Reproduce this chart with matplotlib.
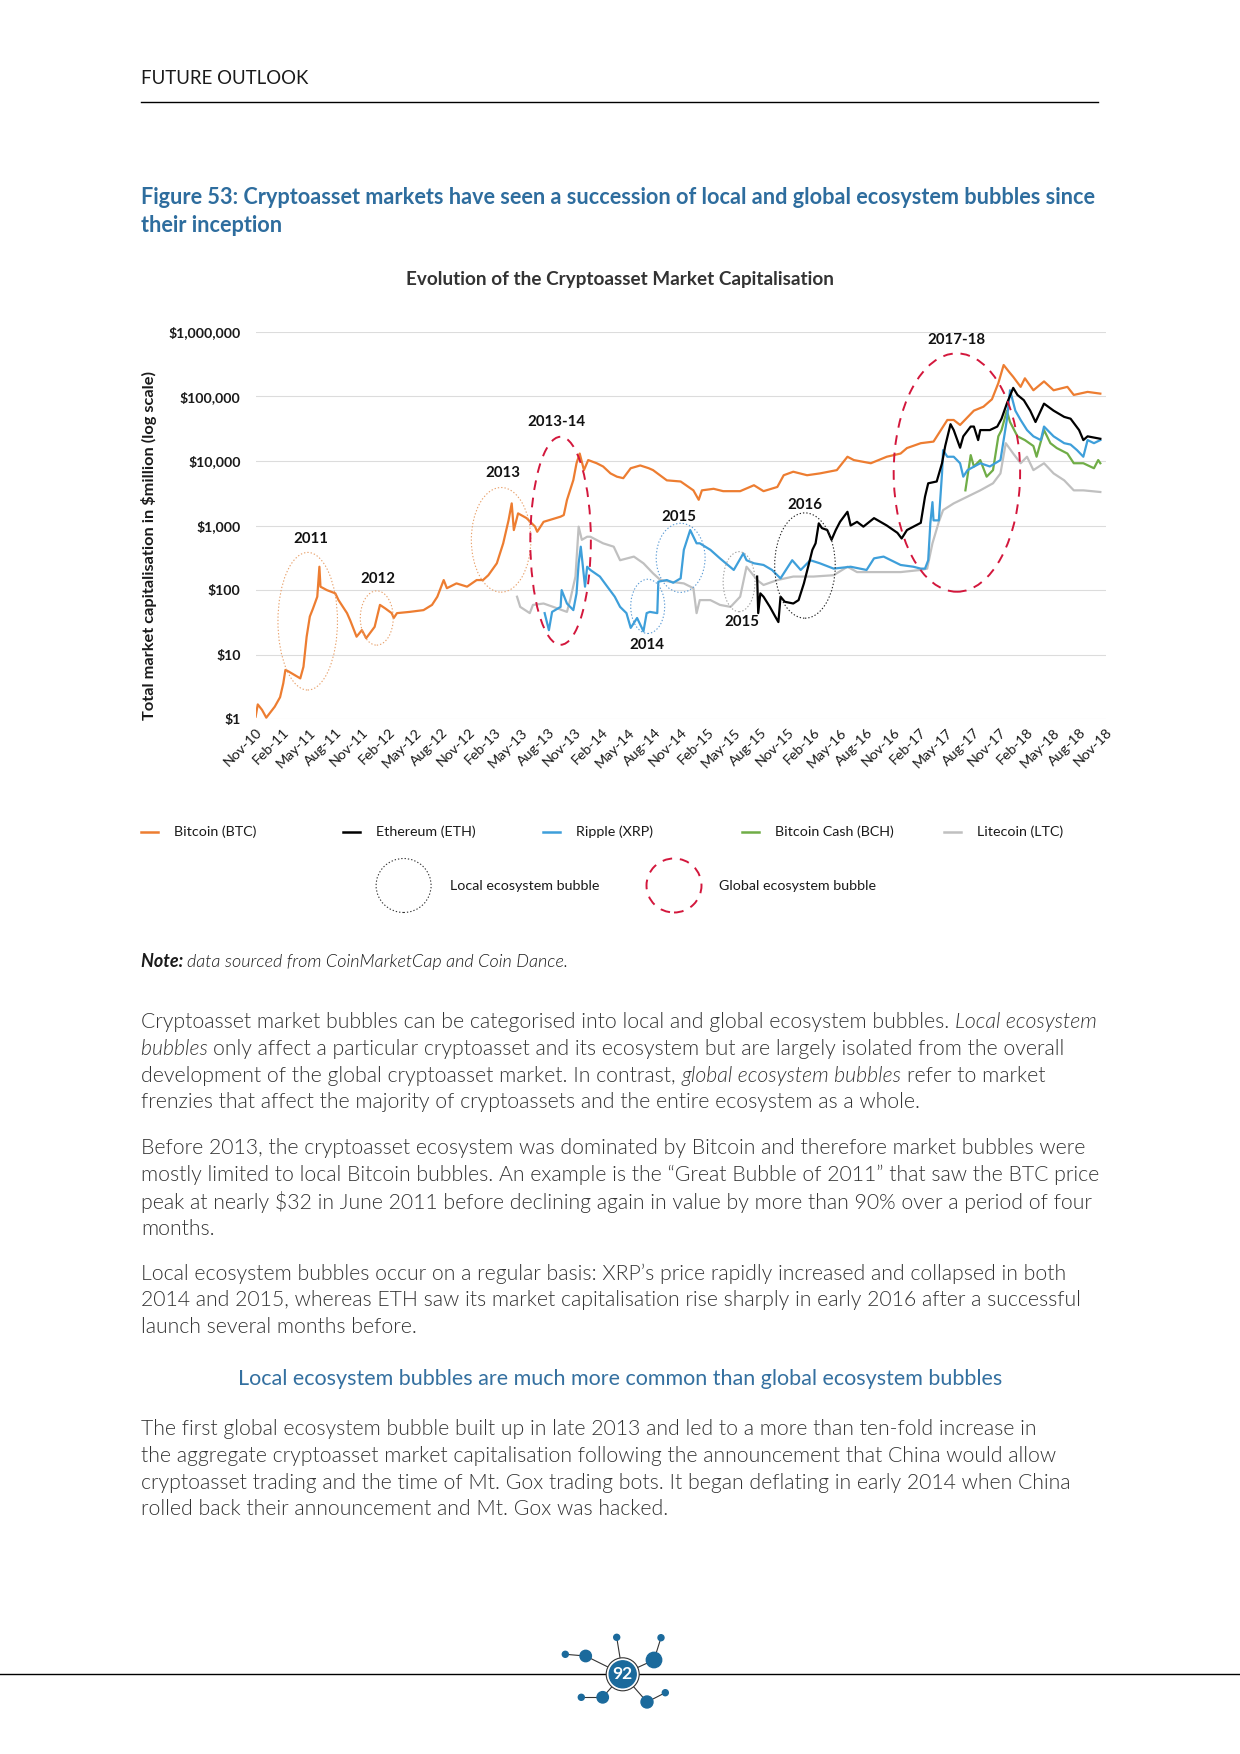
import numpy as np
import matplotlib.pyplot as plt
from matplotlib.patches import Ellipse, Circle
from matplotlib.lines import Line2D
from matplotlib.ticker import FuncFormatter, FixedLocator, NullLocator
from matplotlib.font_manager import FontProperties

plt.rcParams['font.family'] = ['Lato', 'DejaVu Sans']

# ---- data: decimal year, total market cap in $million ----
btc_t = [2010.83, 2010.85, 2010.89, 2010.93, 2011.01, 2011.06, 2011.09, 2011.11, 2011.14, 2011.25,
         2011.28, 2011.31, 2011.34, 2011.37, 2011.41, 2011.43, 2011.44, 2011.50, 2011.58, 2011.61,
         2011.69, 2011.72, 2011.78, 2011.83, 2011.87, 2011.95, 2012.00, 2012.05, 2012.11, 2012.13,
         2012.16, 2012.28, 2012.41, 2012.49, 2012.54, 2012.60, 2012.63, 2012.72, 2012.82, 2012.91,
         2012.97, 2013.02, 2013.10, 2013.16, 2013.21, 2013.24, 2013.26, 2013.30, 2013.38, 2013.46,
         2013.48, 2013.54, 2013.70, 2013.73, 2013.76, 2013.82, 2013.85, 2013.88, 2013.92, 2013.96,
         2014.04, 2014.10, 2014.17, 2014.23, 2014.29, 2014.36, 2014.45, 2014.53, 2014.57, 2014.70,
         2014.83, 2014.95, 2015.00, 2015.03, 2015.14, 2015.23, 2015.39, 2015.52, 2015.61, 2015.74,
         2015.80, 2015.89, 2016.02, 2016.14, 2016.30, 2016.40, 2016.46, 2016.62, 2016.77, 2016.90,
         2016.96, 2017.09, 2017.21, 2017.34, 2017.40, 2017.46, 2017.59, 2017.68, 2017.76, 2017.82,
         2017.87, 2017.92, 2017.96, 2018.03, 2018.07, 2018.15, 2018.25, 2018.34, 2018.47, 2018.53,
         2018.66, 2018.78]
btc_v = [1.1, 1.7, 1.4, 1.06, 1.57, 2.2, 3.6, 5.8, 5.5, 4.3,
         6.5, 19, 39, 52, 79, 230, 113, 100, 89, 70,
         44, 34, 19, 24, 18, 27, 59, 52, 44, 37,
         44, 46, 49, 59, 79, 143, 107, 127, 113, 143,
         143, 170, 260, 530, 1200, 2200, 850, 1540, 1300, 960,
         800, 1140, 1370, 1450, 2480, 5050, 9200, 13000, 7200, 10300,
         9200, 8200, 6400, 5700, 5400, 7700, 8500, 7700, 7200, 5000,
         4800, 3500, 2500, 3500, 3700, 3400, 3400, 4200, 3400, 3950,
         6000, 6800, 6000, 6400, 7200, 11600, 10300, 9200, 11600, 13000,
         15800, 18800, 19900, 43000, 43000, 36000, 60000, 69000, 90000, 160000,
         305000, 240000, 200000, 140000, 190000, 124000, 170000, 124000, 140000, 105000,
         117000, 110000]

eth_t = [2015.55, 2015.56, 2015.58, 2015.61, 2015.67, 2015.72, 2015.75, 2015.77, 2015.81, 2015.89,
         2015.94, 2015.99, 2016.03, 2016.07, 2016.10, 2016.13, 2016.16, 2016.21, 2016.25, 2016.29,
         2016.33, 2016.40, 2016.43, 2016.49, 2016.55, 2016.65, 2016.77, 2016.87, 2016.91, 2016.96,
         2017.09, 2017.13, 2017.16, 2017.24, 2017.29, 2017.32, 2017.37, 2017.40, 2017.46, 2017.49,
         2017.56, 2017.59, 2017.63, 2017.65, 2017.74, 2017.81, 2017.85, 2017.90, 2017.96, 2018.00,
         2018.06, 2018.12, 2018.17, 2018.25, 2018.34, 2018.44, 2018.50, 2018.58, 2018.62, 2018.66,
         2018.78]
eth_v = [162, 44, 89, 79, 55, 39, 32, 79, 66, 62,
         70, 127, 230, 420, 530, 1080, 910, 850, 600, 850,
         1140, 1630, 1000, 1140, 960, 1300, 1000, 770, 630, 850,
         1100, 2800, 4500, 4800, 9200, 17000, 37000, 30000, 16000, 24000,
         34000, 34000, 21000, 30000, 30000, 34000, 45000, 77000, 135000, 105000,
         87000, 60000, 40000, 77000, 60000, 48000, 45000, 30000, 21000, 24000,
         22000]

xrp_t = [2013.55, 2013.59, 2013.62, 2013.70, 2013.71, 2013.76, 2013.82, 2013.85, 2013.87, 2013.89,
         2013.93, 2013.95, 2013.98, 2014.07, 2014.14, 2014.21, 2014.26, 2014.32, 2014.36, 2014.42,
         2014.48, 2014.51, 2014.54, 2014.61, 2014.62, 2014.70, 2014.76, 2014.83, 2014.86, 2014.92,
         2014.98, 2015.01, 2015.11, 2015.20, 2015.33, 2015.42, 2015.45, 2015.52, 2015.61, 2015.69,
         2015.77, 2015.88, 2015.96, 2016.05, 2016.14, 2016.27, 2016.43, 2016.58, 2016.65, 2016.74,
         2016.90, 2017.02, 2017.09, 2017.13, 2017.16, 2017.18, 2017.20, 2017.21, 2017.26, 2017.29,
         2017.30, 2017.34, 2017.40, 2017.46, 2017.49, 2017.53, 2017.65, 2017.74, 2017.84, 2017.90,
         2017.93, 2017.98, 2018.03, 2018.09, 2018.15, 2018.22, 2018.25, 2018.34, 2018.44, 2018.50,
         2018.56, 2018.62, 2018.66, 2018.72, 2018.78]
xrp_v = [44, 24, 46, 55, 100, 62, 49, 89, 260, 470,
         113, 230, 205, 162, 113, 79, 55, 44, 26, 37,
         23, 44, 46, 44, 135, 143, 130, 152, 420, 850,
         530, 530, 420, 310, 205, 370, 290, 260, 245, 205,
         152, 290, 205, 290, 260, 215, 230, 205, 310, 330,
         245, 230, 215, 215, 290, 1080, 2300, 1200, 1200, 6400,
         14700, 11600, 11600, 9200, 5700, 7200, 9200, 8200, 10300, 43000,
         124000, 60000, 43000, 30000, 24000, 21000, 34000, 24000, 18800, 17900,
         14700, 11600, 21000, 18800, 21000]

bch_t = [2017.51, 2017.56, 2017.59, 2017.65, 2017.71, 2017.77, 2017.82, 2017.85, 2017.90, 2017.93,
         2018.00, 2018.07, 2018.15, 2018.18, 2018.25, 2018.31, 2018.37, 2018.47, 2018.53, 2018.62,
         2018.72, 2018.76, 2018.78]
bch_v = [3500, 12300, 8200, 10300, 5700, 7200, 24000, 30000, 60000, 40000,
         24000, 21000, 17000, 11600, 30000, 18800, 15800, 13000, 9200, 9200,
         7700, 10300, 9200]

ltc_t = [2013.29, 2013.32, 2013.41, 2013.44, 2013.54, 2013.63, 2013.76, 2013.79, 2013.84, 2013.87,
         2013.90, 2013.95, 2013.98, 2014.10, 2014.20, 2014.26, 2014.39, 2014.48, 2014.57, 2014.64,
         2014.73, 2014.86, 2014.95, 2014.98, 2015.01, 2015.11, 2015.20, 2015.30, 2015.39, 2015.45,
         2015.50, 2015.55, 2015.61, 2015.74, 2015.89, 2016.08, 2016.27, 2016.40, 2016.49, 2016.65,
         2016.90, 2017.09, 2017.15, 2017.20, 2017.26, 2017.30, 2017.40, 2017.53, 2017.65, 2017.77,
         2017.84, 2017.89, 2017.96, 2018.03, 2018.09, 2018.15, 2018.25, 2018.34, 2018.44, 2018.53,
         2018.62, 2018.78]
ltc_v = [79, 55, 44, 59, 62, 55, 46, 70, 162, 960,
         600, 670, 670, 530, 470, 290, 330, 260, 182, 143,
         135, 127, 107, 44, 70, 70, 59, 55, 79, 230,
         182, 143, 120, 143, 162, 162, 170, 230, 190, 190,
         190, 205, 215, 530, 1140, 1730, 2200, 2800, 3500, 4500,
         6400, 18800, 13000, 9200, 11600, 7200, 9200, 6400, 5000, 3500,
         3500, 3300]

series_names = ['Bitcoin (BTC)', 'Ethereum (ETH)', 'Ripple (XRP)', 'Bitcoin Cash (BCH)', 'Litecoin (LTC)']
series_colors = ['#ED7D31', '#000000', '#3E9FDA', '#70AD47', '#C0C0C0']

tick_labels = ['Nov-10', 'Feb-11', 'May-11', 'Aug-11', 'Nov-11', 'Feb-12', 'May-12', 'Aug-12',
               'Nov-12', 'Feb-13', 'May-13', 'Aug-13', 'Nov-13', 'Feb-14', 'May-14', 'Aug-14',
               'Nov-14', 'Feb-15', 'May-15', 'Aug-15', 'Nov-15', 'Feb-16', 'May-16', 'Aug-16',
               'Nov-16', 'Feb-17', 'May-17', 'Aug-17', 'Nov-17', 'Feb-18', 'May-18', 'Aug-18', 'Nov-18']
y_ticks = [1, 10, 100, 1000, 10000, 100000, 1000000]

# bubbles: label, centre year, centre value, width (years), height (decades), kind, colour
bubble_labels = ['2011', '2012', '2013', '2013-14', '2014', '2015', '2015', '2016', '2017-18']
bubble_t = [2011.32, 2011.97, 2013.14, 2013.70, 2014.52, 2014.83, 2015.38, 2016.00, 2017.43]
bubble_v = [33, 37, 600, 580, 56, 316, 135, 240, 6600]
bubble_w = [0.56, 0.31, 0.56, 0.57, 0.32, 0.46, 0.30, 0.57, 1.19]
bubble_h = [2.13, 0.84, 1.62, 3.22, 0.84, 1.07, 0.93, 1.63, 3.69]
bubble_kind = ['local', 'local', 'local', 'global', 'local', 'local', 'local', 'local', 'global']
bubble_color = ['#E8A06A', '#E8A06A', '#E8A06A', '#D3173C', '#5B9BD5', '#5B9BD5', '#A0A0A0', '#222222', '#D3173C']
label_t = [2011.35, 2011.98, 2013.16, 2013.66, 2014.51, 2014.81, 2015.41, 2016.00, 2017.43]
label_v = [617, 147, 6430, 39600, 14, 1370, 32, 2075, 743000]

W, H = 1240, 1754
fig = plt.figure(figsize=(W / 100, H / 100), dpi=100)
fig.patch.set_facecolor('white')
pg = fig.dpi_scale_trans
LIGHT = 300


def P(x, y):
    return x / 100, (H - y) / 100


# ---- chart ----
ax = fig.add_axes([256 / W, 1 - 719.3 / H, 850 / W, 387.6 / H])
ax.set_yscale('log')
ax.set_ylim(1, 1e6)
tick_years = []
months = ['Jan', 'Feb', 'Mar', 'Apr', 'May', 'Jun', 'Jul', 'Aug', 'Sep', 'Oct', 'Nov', 'Dec']
for lab in tick_labels:
    m, y = lab.split('-')
    tick_years.append(2000 + int(y) + months.index(m) / 12)
ax.set_xlim(tick_years[0], tick_years[-1])

series = [(btc_t, btc_v), (eth_t, eth_v), (xrp_t, xrp_v), (bch_t, bch_v), (ltc_t, ltc_v)]
zorders = [6, 5, 4, 3, 2]
for (t, v), c, z in zip(series, series_colors, zorders):
    ax.plot(t, v, color=c, lw=1.6, zorder=z, solid_joinstyle='round')

for s in ax.spines.values():
    s.set_visible(False)
ax.yaxis.set_major_locator(FixedLocator(y_ticks))
ax.yaxis.set_minor_locator(NullLocator())
ax.yaxis.set_major_formatter(FuncFormatter(lambda v, p: f'${v:,.0f}'))
ax.yaxis.grid(True, color='#DCDCDC', lw=0.8)
ax.set_axisbelow(True)
ax.tick_params(axis='y', length=0, pad=11, labelsize=10.2)
for lab in ax.get_yticklabels():
    lab.set_fontweight('bold')
    lab.set_color('#1a1a1a')
ax.set_xticks(tick_years)
ax.set_xticklabels(tick_labels, rotation=45, ha='right', rotation_mode='anchor', fontsize=10.3, color='#1a1a1a')
ax.tick_params(axis='x', length=0, pad=5)

scaled = ax.transLimits + ax.transAxes
for i in range(len(bubble_t)):
    if bubble_kind[i] == 'global':
        ls, lw = (0, (5, 4)), 1.4
    else:
        ls, lw = (0, (1.2, 1.8)), 0.8
    e = Ellipse((bubble_t[i], np.log10(bubble_v[i])), bubble_w[i], bubble_h[i], transform=scaled,
                fill=False, edgecolor=bubble_color[i], lw=lw, linestyle=ls, zorder=8)
    ax.add_patch(e)
    ax.text(label_t[i], label_v[i], bubble_labels[i], ha='center', va='center', fontsize=10.8,
            fontweight='bold', color='#111111', zorder=9)

# ---- page text ----
def ftext(x, y, s, **kw):
    return fig.text(*P(x, y), s, transform=pg, **kw)


ftext(141, 79, 'FUTURE OUTLOOK', fontsize=13.4, color='#1a1a1a', va='center')
fig.add_artist(Line2D([1.41, 10.98], [(H - 101.7) / 100] * 2, transform=pg, color='black', lw=1))

title_c = '#2E6D9E'
ftext(141, 197, 'Figure 53: Cryptoasset markets have seen a succession of local and global ecosystem bubbles since',
      fontsize=15.6, fontweight='bold', color=title_c, va='center')
ftext(141, 225, 'their inception', fontsize=15.6, fontweight='bold', color=title_c, va='center')
ftext(620, 279.5, 'Evolution of the Cryptoasset Market Capitalisation', fontsize=13.6, fontweight='bold',
      color='#333333', ha='center', va='center')
ftext(149, 545, 'Total market capitalisation in $million (log scale)', fontsize=11.8, fontweight='bold',
      color='#1a1a1a', rotation=90, ha='center', va='center')

# legend row 1
leg_x = [141, 343, 543, 742, 944]
for x0, name, c in zip(leg_x, series_names, series_colors):
    fig.add_artist(Line2D([x0 / 100, (x0 + 17) / 100], [(H - 832) / 100] * 2, transform=pg, color=c, lw=1.8))
    ftext(x0 + 33, 832, name, fontsize=10.3, color='#1a1a1a', va='center')

# legend row 2
fig.add_artist(Ellipse(P(403.6, 885.5), 0.55, 0.54, transform=pg, fill=False, edgecolor='#333333',
                       lw=0.8, linestyle=(0, (1.2, 1.8))))
ftext(449.5, 885.5, 'Local ecosystem bubble', fontsize=10.3, color='#1a1a1a', va='center')
fig.add_artist(Ellipse(P(674, 885.5), 0.55, 0.54, transform=pg, fill=False, edgecolor='#D3173C',
                       lw=1.4, linestyle=(0, (5, 4))))
ftext(719, 885.5, 'Global ecosystem bubble', fontsize=10.3, color='#1a1a1a', va='center')

renderer = fig.canvas.get_renderer()


def seg_width(s, size, weight, style):
    fp = FontProperties(family=['Lato', 'DejaVu Sans'], size=size, weight=weight, style=style)
    w1 = renderer.get_text_width_height_descent(s + '|', fp, ismath=False)[0]
    w2 = renderer.get_text_width_height_descent('|', fp, ismath=False)[0]
    return w1 - w2


def rich_line(x, y, parts, size, color):
    for s, weight, style in parts:
        ftext(x, y, s, fontsize=size, fontweight=weight, style=style, color=color, va='center')
        x += seg_width(s, size, weight, style)


rich_line(141, 961.6, [('Note: ', 'bold', 'italic'),
                       ('data sourced from CoinMarketCap and Coin Dance.', LIGHT, 'italic')], 13, '#1a1a1a')

body_c = '#333333'
body_size = 15.3
N, I = (LIGHT, 'normal'), (LIGHT, 'italic')
paragraphs = [
    (1022, [[('Cryptoasset market bubbles can be categorised into local and global ecosystem bubbles. ',) + N,
             ('Local ecosystem',) + I],
            [('bubbles ',) + I, ('only affect a particular cryptoasset and its ecosystem but are largely isolated from the overall',) + N],
            [('development of the global cryptoasset market. In contrast, ',) + N, ('global ecosystem bubbles ',) + I,
             ('refer to market',) + N],
            [('frenzies that affect the majority of cryptoassets and the entire ecosystem as a whole.',) + N]]),
    (1148.3, [[('Before 2013, the cryptoasset ecosystem was dominated by Bitcoin and therefore market bubbles were',) + N],
              [('mostly limited to local Bitcoin bubbles. An example is the \u201cGreat Bubble of 2011\u201d that saw the BTC price',) + N],
              [('peak at nearly $32 in June 2011 before declining again in value by more than 90% over a period of four',) + N],
              [('months.',) + N]]),
    (1273.5, [[('Local ecosystem bubbles occur on a regular basis: XRP\u2019s price rapidly increased and collapsed in both',) + N],
              [('2014 and 2015, whereas ETH saw its market capitalisation rise sharply in early 2016 after a successful',) + N],
              [('launch several months before.',) + N]]),
    (1429, [[('The first global ecosystem bubble built up in late 2013 and led to a more than ten-fold increase in',) + N],
            [('the aggregate cryptoasset market capitalisation following the announcement that China would allow',) + N],
            [('cryptoasset trading and the time of Mt. Gox trading bots. It began deflating in early 2014 when China',) + N],
            [('rolled back their announcement and Mt. Gox was hacked.',) + N]]),
]
for y0, lines in paragraphs:
    for k, parts in enumerate(lines):
        rich_line(141, y0 + 26.8 * k, parts, body_size, body_c)

ftext(620, 1378.6, 'Local ecosystem bubbles are much more common than global ecosystem bubbles',
      fontsize=15.5, color='#3470A0', ha='center', va='center')

# ---- footer with page number ----
fig.add_artist(Line2D([0, W / 100], [(H - 1673.8) / 100] * 2, transform=pg, color='black', lw=1))
node_c = '#1B6A9C'
cx, cy = 622.7, 1674.3
links = [((cx, cy), (616.7, 1637.3)), ((cx, cy), (654, 1660)), ((654, 1660), (661, 1637.7)),
         ((cx, cy), (585.7, 1656)), ((585.7, 1656), (565.3, 1654.3)), ((cx, cy), (602.7, 1697.3)),
         ((602.7, 1697.3), (581.3, 1697.3)), ((cx, cy), (647, 1702)), ((647, 1702), (665.3, 1692.7))]
for a, b in links:
    fig.add_artist(Line2D([a[0] / 100, b[0] / 100], [(H - a[1]) / 100, (H - b[1]) / 100], transform=pg,
                          color='#333333', lw=0.8, zorder=1))
nodes = [(616.7, 1637.3, 3), (654, 1660, 7.7), (661, 1637.7, 3), (585.7, 1656, 5.7), (565.3, 1654.3, 3),
         (602.7, 1697.3, 5.7), (581.3, 1697.3, 3), (647, 1702, 6), (665.3, 1692.7, 3)]
for x, y, r in nodes:
    fig.add_artist(Circle(P(x, y), r / 100, transform=pg, color=node_c, zorder=2))
fig.add_artist(Circle(P(cx, cy), 16.5 / 100, transform=pg, facecolor='white', edgecolor='#333333', lw=0.8, zorder=3))
fig.add_artist(Circle(P(cx, cy), 13.5 / 100, transform=pg, color=node_c, zorder=4))
ftext(cx, cy, '92', fontsize=12.5, fontweight='bold', color='white', ha='center', va='center', zorder=5)

fig.savefig('out.png', dpi=100)
